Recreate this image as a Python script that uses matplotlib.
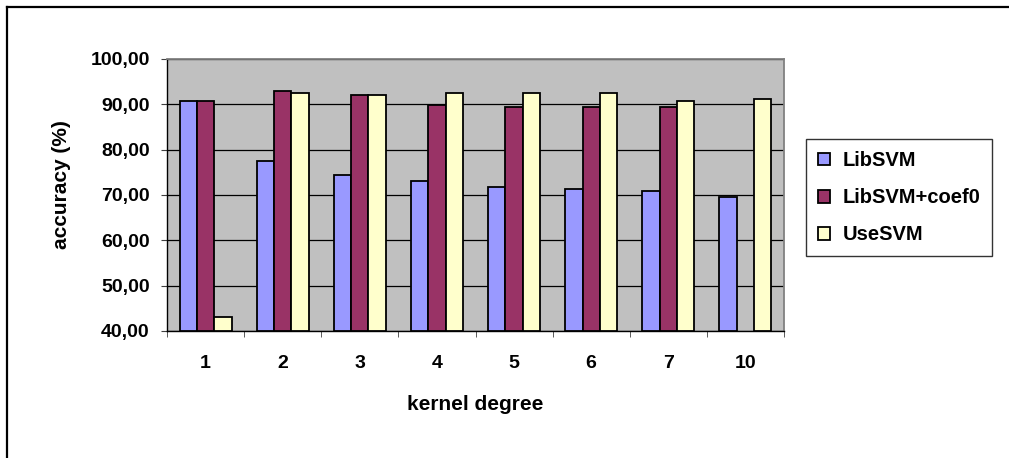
import matplotlib
matplotlib.use('Agg')
import matplotlib.pyplot as plt
import numpy as np
from matplotlib.lines import Line2D

degrees = ['1', '2', '3', '4', '5', '6', '7', '10']
libsvm = [90.8, 77.5, 74.4, 73.0, 71.8, 71.3, 70.8, 69.6]
libsvm_coef0 = [90.8, 92.9, 92.0, 89.9, 89.4, 89.4, 89.4, np.nan]
usesvm = [43.1, 92.5, 92.0, 92.5, 92.5, 92.5, 90.8, 91.2]
series_names = ['LibSVM', 'LibSVM+coef0', 'UseSVM']
colors = ['#9999FF', '#993366', '#FFFFCC']

plt.rcParams['font.family'] = ['Liberation Sans', 'DejaVu Sans']
plt.rcParams['font.weight'] = 'bold'

W, H = 1009, 458
fig = plt.figure(figsize=(W / 100, H / 100), dpi=100)
ax = fig.add_axes([167 / W, 1 - 331 / H, 617 / W, 272 / H])
ax.set_facecolor('#C0C0C0')

x = np.arange(len(degrees))
w = 0.225
for i, (vals, name, c) in enumerate(zip([libsvm, libsvm_coef0, usesvm], series_names, colors)):
    ax.bar(x + (i - 1) * w, np.array(vals) - 40, bottom=40, width=w, color=c,
           edgecolor='black', linewidth=1.3, label=name, zorder=3)

ax.set_xlim(-0.5, len(degrees) - 0.5)
ax.set_ylim(40, 100)
ax.set_yticks(np.arange(40, 101, 10))
ax.set_yticklabels(['%d,00' % v for v in range(40, 101, 10)], fontsize=14, fontweight='bold')
ax.yaxis.grid(True, color='black', linewidth=0.9, zorder=0)
ax.set_axisbelow(True)

ax.set_xticks(x)
ax.set_xticklabels(degrees, fontsize=14, fontweight='bold')
ax.tick_params(axis='x', length=0, pad=17)
ax.set_xticks(np.arange(-0.5, len(degrees)), minor=True)
ax.tick_params(axis='x', which='minor', length=4.5, color='#404040', direction='out')
ax.tick_params(axis='y', length=4.5, color='#404040', direction='out', pad=8)

for s in ['top', 'right']:
    ax.spines[s].set_color('#808080')
    ax.spines[s].set_linewidth(1.3)
for s in ['left', 'bottom']:
    ax.spines[s].set_color('black')
    ax.spines[s].set_linewidth(1.0)

ax.set_ylabel('accuracy (%)', fontsize=15, fontweight='bold')
ax.yaxis.set_label_coords((62 - 167) / 617, (331 - 185) / 272)
ax.set_xlabel('kernel degree', fontsize=15, fontweight='bold')
ax.xaxis.set_label_coords(0.5, (331 - 404) / 272)
ax.xaxis.label.set_va('center')
ax.yaxis.label.set_va('center')

leg = fig.legend(loc='upper left', bbox_to_anchor=(806 / W, 1 - 139 / H),
                 fontsize=14.5, frameon=True, fancybox=False, edgecolor='black',
                 handlelength=0.6, handleheight=0.6, handletextpad=0.6,
                 labelspacing=0.9, borderpad=0.6, borderaxespad=0)
leg.get_frame().set_linewidth(1.0)

# outer chart border (only top and left fall inside the image)
fig.add_artist(Line2D([7 / W, 7 / W], [0, 1 - 7 / H], color='black', linewidth=1.6,
                      transform=fig.transFigure))
fig.add_artist(Line2D([7 / W, 1], [1 - 7 / H, 1 - 7 / H], color='black', linewidth=1.6,
                      transform=fig.transFigure))

fig.savefig('out.png', dpi=100)
